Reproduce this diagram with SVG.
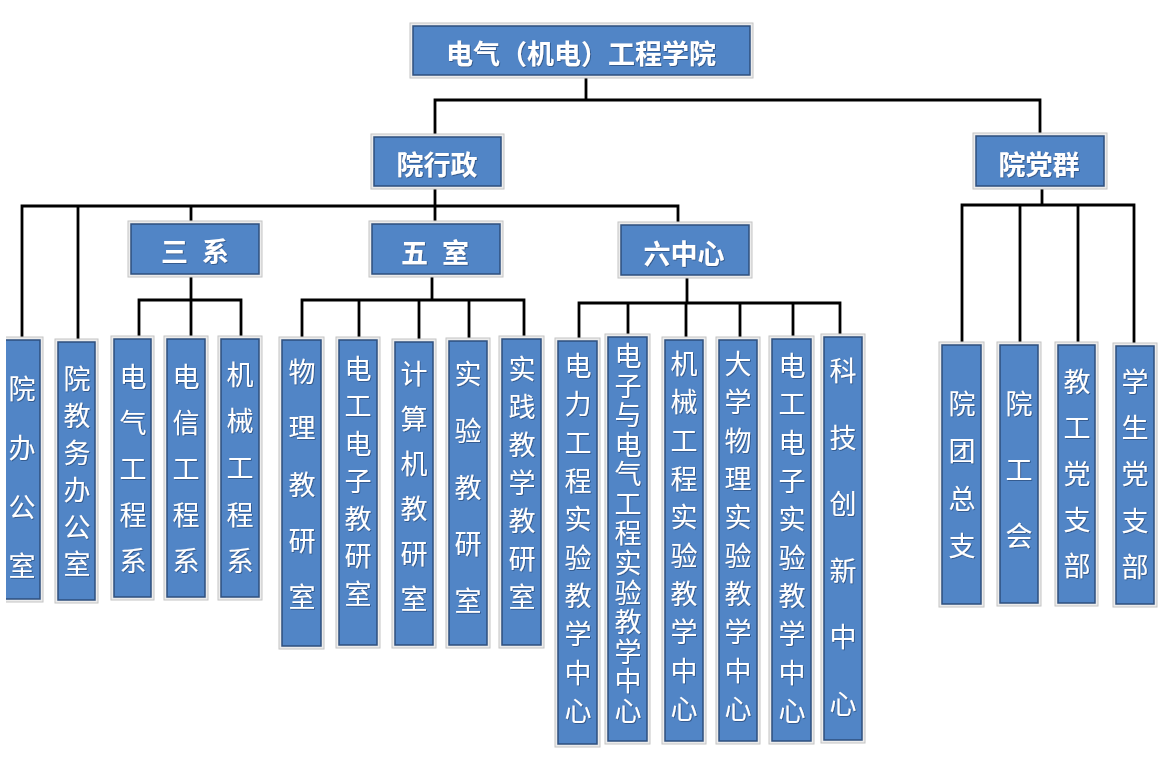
<svg xmlns="http://www.w3.org/2000/svg" width="1165" height="763" viewBox="0 0 1165 763">
<style>
.frame{fill:#ececec;stroke:#c4c4c4;stroke-width:1}
.fill{fill:#5185C6;stroke:#2e4f7d;stroke-width:1.5}
.hd{font-family:"Noto Sans CJK SC","Noto Sans",sans-serif;font-weight:700;font-size:27px;fill:#ffffff;text-anchor:middle;dominant-baseline:central;filter:url(#ts)}
.vt{font-family:"Liberation Serif","Noto Sans CJK SC",serif;font-size:27px;fill:#ffffff;text-anchor:middle;dominant-baseline:central;filter:url(#ts)}
.ln{fill:none;stroke:#000000;stroke-width:2.8;stroke-linecap:square}
</style>
<defs>
<filter id="ts" x="-20%" y="-20%" width="140%" height="140%"><feDropShadow dx="0.8" dy="0.8" stdDeviation="0.4" flood-color="#1f3864" flood-opacity="0.7"/></filter>
<clipPath id="lc"><rect x="6" y="0" width="100" height="763"/></clipPath>
</defs>
<rect width="1165" height="763" fill="#ffffff"/>

<g id="connectors">
<path class="ln" d="M586 78V100M435 100H1040M435 100V134M1040 100V133"/>
<path class="ln" d="M435 189V206M22 206H678M22 206V337M78 206V339M191 206V221M435 206V221M678 206V222"/>
<path class="ln" d="M191 277V300M139 300H241M139 300V336M191 300V336M241 300V336"/>
<path class="ln" d="M432 277V300M302 300H524M302 300V337M359 300V337M419 300V339M469 300V338M524 300V336"/>
<path class="ln" d="M687 278V303M579 303H840M579 303V338M628 303V334M686 303V337M740 303V337M793 303V336M840 303V334"/>
<path class="ln" d="M1042 189V205M962 205H1134M962 205V342M1020 205V342M1078 205V342M1134 205V343"/>
</g>

<g id="n-root"><rect class="frame" x="410" y="23" width="343" height="55"/><rect class="fill" x="413" y="26" width="337" height="49"/><text class="hd" x="581" y="52">电气（机电）工程学院</text></g>
<g id="n-xingzheng"><rect class="frame" x="371" y="134" width="133" height="55"/><rect class="fill" x="374" y="137" width="127" height="49"/><text class="hd" x="437" y="163">院行政</text></g>
<g id="n-dangqun"><rect class="frame" x="973" y="133" width="134" height="56"/><rect class="fill" x="976" y="136" width="128" height="50"/><text class="hd" x="1039" y="163">院党群</text></g>
<g id="n-sanxi"><rect class="frame" x="128" y="221" width="134" height="56"/><rect class="fill" x="131" y="224" width="128" height="50"/><text class="hd" x="195" y="250" word-spacing="8">三 系</text></g>
<g id="n-wushi"><rect class="frame" x="369" y="221" width="134" height="56"/><rect class="fill" x="372" y="224" width="128" height="50"/><text class="hd" x="435" y="251" word-spacing="8">五 室</text></g>
<g id="n-liuzhongxin"><rect class="frame" x="618" y="222" width="134" height="56"/><rect class="fill" x="621" y="225" width="128" height="50"/><text class="hd" x="684" y="252">六中心</text></g>

<g id="n-yuanban" clip-path="url(#lc)"><rect class="frame" x="0" y="337" width="43" height="265"/><rect class="fill" x="3" y="340" width="37" height="259"/><text class="vt"><tspan x="22" y="390">院</tspan><tspan x="22" y="449">办</tspan><tspan x="22" y="508">公</tspan><tspan x="22" y="567">室</tspan></text></g>
<g id="n-jiaowu"><rect class="frame" x="55" y="339" width="43" height="264"/><rect class="fill" x="58" y="342" width="37" height="258"/><text class="vt"><tspan x="77" y="380">院</tspan><tspan x="77" y="417">教</tspan><tspan x="77" y="454">务</tspan><tspan x="77" y="491">办</tspan><tspan x="77" y="528">公</tspan><tspan x="77" y="565">室</tspan></text></g>
<g id="n-dianqi"><rect class="frame" x="111" y="336" width="43" height="264"/><rect class="fill" x="114" y="339" width="37" height="258"/><text class="vt"><tspan x="133" y="378">电</tspan><tspan x="133" y="424">气</tspan><tspan x="133" y="470">工</tspan><tspan x="133" y="516">程</tspan><tspan x="133" y="562">系</tspan></text></g>
<g id="n-dianxin"><rect class="frame" x="164" y="336" width="44" height="264"/><rect class="fill" x="167" y="339" width="38" height="258"/><text class="vt"><tspan x="186" y="378">电</tspan><tspan x="186" y="424">信</tspan><tspan x="186" y="470">工</tspan><tspan x="186" y="516">程</tspan><tspan x="186" y="562">系</tspan></text></g>
<g id="n-jixie"><rect class="frame" x="218" y="336" width="44" height="264"/><rect class="fill" x="221" y="339" width="38" height="258"/><text class="vt"><tspan x="240" y="376">机</tspan><tspan x="240" y="422">械</tspan><tspan x="240" y="469">工</tspan><tspan x="240" y="516">程</tspan><tspan x="240" y="562">系</tspan></text></g>

<g id="n-wuli"><rect class="frame" x="279" y="337" width="45" height="312"/><rect class="fill" x="282" y="340" width="39" height="306"/><text class="vt"><tspan x="302" y="373">物</tspan><tspan x="302" y="429">理</tspan><tspan x="302" y="486">教</tspan><tspan x="302" y="542">研</tspan><tspan x="302" y="598">室</tspan></text></g>
<g id="n-diangong"><rect class="frame" x="336" y="337" width="44" height="311"/><rect class="fill" x="339" y="340" width="38" height="305"/><text class="vt"><tspan x="358" y="370">电</tspan><tspan x="358" y="407">工</tspan><tspan x="358" y="445">电</tspan><tspan x="358" y="482">子</tspan><tspan x="358" y="520">教</tspan><tspan x="358" y="557">研</tspan><tspan x="358" y="595">室</tspan></text></g>
<g id="n-jisuanji"><rect class="frame" x="392" y="339" width="44" height="309"/><rect class="fill" x="395" y="342" width="38" height="303"/><text class="vt"><tspan x="414" y="375">计</tspan><tspan x="414" y="420">算</tspan><tspan x="414" y="465">机</tspan><tspan x="414" y="510">教</tspan><tspan x="414" y="555">研</tspan><tspan x="414" y="600">室</tspan></text></g>
<g id="n-shiyan"><rect class="frame" x="446" y="338" width="44" height="310"/><rect class="fill" x="449" y="341" width="38" height="304"/><text class="vt"><tspan x="468" y="375">实</tspan><tspan x="468" y="432">验</tspan><tspan x="468" y="489">教</tspan><tspan x="468" y="545">研</tspan><tspan x="468" y="602">室</tspan></text></g>
<g id="n-shijian"><rect class="frame" x="499" y="336" width="45" height="312"/><rect class="fill" x="502" y="339" width="39" height="306"/><text class="vt"><tspan x="522" y="370">实</tspan><tspan x="522" y="408">践</tspan><tspan x="522" y="446">教</tspan><tspan x="522" y="484">学</tspan><tspan x="522" y="522">教</tspan><tspan x="522" y="560">研</tspan><tspan x="522" y="598">室</tspan></text></g>

<g id="n-dianli"><rect class="frame" x="555" y="338" width="45" height="409"/><rect class="fill" x="558" y="341" width="39" height="403"/><text class="vt"><tspan x="578" y="367">电</tspan><tspan x="578" y="405">力</tspan><tspan x="578" y="444">工</tspan><tspan x="578" y="482">程</tspan><tspan x="578" y="520">实</tspan><tspan x="578" y="559">验</tspan><tspan x="578" y="597">教</tspan><tspan x="578" y="635">学</tspan><tspan x="578" y="674">中</tspan><tspan x="578" y="712">心</tspan></text></g>
<g id="n-dianzi"><rect class="frame" x="605" y="334" width="45" height="410"/><rect class="fill" x="608" y="337" width="39" height="404"/><text class="vt"><tspan x="628" y="357">电</tspan><tspan x="628" y="387">子</tspan><tspan x="628" y="416">与</tspan><tspan x="628" y="446">电</tspan><tspan x="628" y="475">气</tspan><tspan x="628" y="505">工</tspan><tspan x="628" y="534">程</tspan><tspan x="628" y="564">实</tspan><tspan x="628" y="594">验</tspan><tspan x="628" y="623">教</tspan><tspan x="628" y="653">学</tspan><tspan x="628" y="682">中</tspan><tspan x="628" y="712">心</tspan></text></g>
<g id="n-jixiesy"><rect class="frame" x="662" y="337" width="44" height="407"/><rect class="fill" x="665" y="340" width="38" height="401"/><text class="vt"><tspan x="684" y="365">机</tspan><tspan x="684" y="403">械</tspan><tspan x="684" y="442">工</tspan><tspan x="684" y="480">程</tspan><tspan x="684" y="518">实</tspan><tspan x="684" y="557">验</tspan><tspan x="684" y="595">教</tspan><tspan x="684" y="633">学</tspan><tspan x="684" y="672">中</tspan><tspan x="684" y="710">心</tspan></text></g>
<g id="n-daxue"><rect class="frame" x="716" y="337" width="44" height="407"/><rect class="fill" x="719" y="340" width="38" height="401"/><text class="vt"><tspan x="738" y="365">大</tspan><tspan x="738" y="403">学</tspan><tspan x="738" y="442">物</tspan><tspan x="738" y="480">理</tspan><tspan x="738" y="518">实</tspan><tspan x="738" y="557">验</tspan><tspan x="738" y="595">教</tspan><tspan x="738" y="633">学</tspan><tspan x="738" y="672">中</tspan><tspan x="738" y="710">心</tspan></text></g>
<g id="n-diangongsy"><rect class="frame" x="769" y="336" width="45" height="408"/><rect class="fill" x="772" y="339" width="39" height="402"/><text class="vt"><tspan x="792" y="367">电</tspan><tspan x="792" y="405">工</tspan><tspan x="792" y="444">电</tspan><tspan x="792" y="482">子</tspan><tspan x="792" y="520">实</tspan><tspan x="792" y="559">验</tspan><tspan x="792" y="597">教</tspan><tspan x="792" y="635">学</tspan><tspan x="792" y="674">中</tspan><tspan x="792" y="712">心</tspan></text></g>
<g id="n-keji"><rect class="frame" x="821" y="334" width="44" height="409"/><rect class="fill" x="824" y="337" width="38" height="403"/><text class="vt"><tspan x="843" y="372">科</tspan><tspan x="843" y="439">技</tspan><tspan x="843" y="505">创</tspan><tspan x="843" y="572">新</tspan><tspan x="843" y="638">中</tspan><tspan x="843" y="705">心</tspan></text></g>

<g id="n-tuanzongzhi"><rect class="frame" x="939" y="342" width="45" height="265"/><rect class="fill" x="942" y="345" width="39" height="259"/><text class="vt"><tspan x="962" y="405">院</tspan><tspan x="962" y="452">团</tspan><tspan x="962" y="500">总</tspan><tspan x="962" y="547">支</tspan></text></g>
<g id="n-gonghui"><rect class="frame" x="997" y="342" width="44" height="264"/><rect class="fill" x="1000" y="345" width="38" height="258"/><text class="vt"><tspan x="1019" y="405">院</tspan><tspan x="1019" y="471">工</tspan><tspan x="1019" y="537">会</tspan></text></g>
<g id="n-jiaogong"><rect class="frame" x="1055" y="342" width="43" height="264"/><rect class="fill" x="1058" y="345" width="37" height="258"/><text class="vt"><tspan x="1077" y="383">教</tspan><tspan x="1077" y="429">工</tspan><tspan x="1077" y="475">党</tspan><tspan x="1077" y="521">支</tspan><tspan x="1077" y="567">部</tspan></text></g>
<g id="n-xuesheng"><rect class="frame" x="1113" y="343" width="44" height="264"/><rect class="fill" x="1116" y="346" width="38" height="258"/><text class="vt"><tspan x="1135" y="383">学</tspan><tspan x="1135" y="429">生</tspan><tspan x="1135" y="475">党</tspan><tspan x="1135" y="522">支</tspan><tspan x="1135" y="568">部</tspan></text></g>
</svg>
